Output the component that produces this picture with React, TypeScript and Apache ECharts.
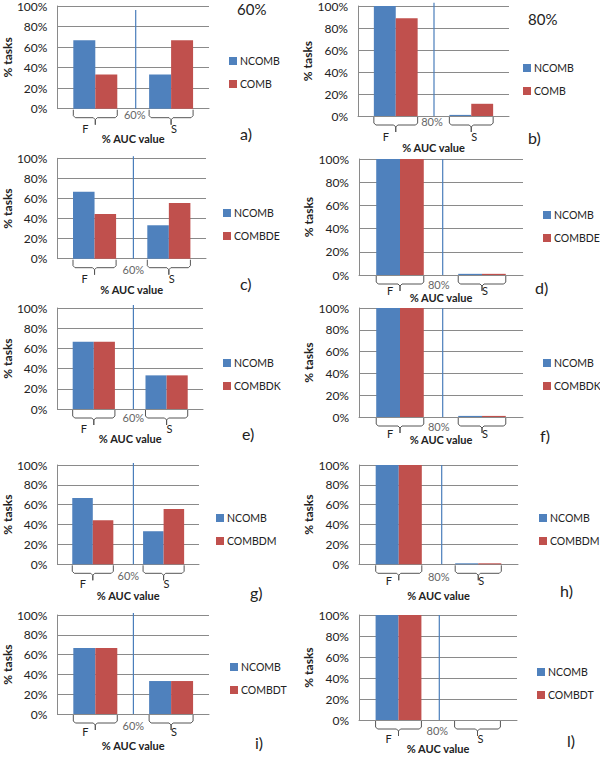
import React, { useEffect, useRef } from "react";
import * as echarts from "echarts";

const categories = ["F", "S"];
const panelLetters = ["a)", "b)", "c)", "d)", "e)", "f)", "g)", "h)", "i)", "l)"];
const thresholds = ["60%", "80%", "60%", "80%", "60%", "80%", "60%", "80%", "60%", "80%"];
const compNames = ["COMB", "COMB", "COMBDE", "COMBDE", "COMBDK", "COMBDK", "COMBDM", "COMBDM", "COMBDT", "COMBDT"];
const ncombValues = [
  [66.7, 33.3], [100, 1], [66.7, 33.3], [100, 1], [66.7, 33.3],
  [100, 1], [66.7, 33.3], [100, 1], [66.7, 33.3], [100, 0],
];
const combValues = [
  [33.3, 66.7], [88.9, 11.1], [44.4, 55.6], [100, 1], [66.7, 33.3],
  [100, 1], [44.4, 55.6], [100, 1], [66.7, 33.3], [100, 0],
];
const headerTitles = [
  { text: "60%", x: 237, y: 1 },
  { text: "80%", x: 528, y: 11 },
];

// layout (positions only)
const layout = [
  { l: 56, t: 6, w: 153, h: 102.7, legL: 229, legT: 55, nameGap: 24, lblM: 14, midDy: 5.5, midDx: -1, divDx: 2.5, divTop: 96, let: [240, 125] },
  { l: 358, t: 6, w: 151, h: 110, legL: 523, legT: 62, nameGap: 26, lblM: 15, midDy: 5, midDx: -2, divDx: 0.5, divTop: 103, let: [528, 129] },
  { l: 56, t: 158.3, w: 150, h: 100.4, legL: 223, legT: 207, nameGap: 25, lblM: 14, midDy: 10.5, midDx: 0, divDx: 1.7, divTop: 102, let: [240, 275] },
  { l: 359, t: 159, w: 164, h: 116, legL: 543, legT: 209, nameGap: 16.5, lblM: 10, midDy: 9, midDx: -4, divDx: 1.7, divTop: 100, let: [535, 279] },
  { l: 56, t: 308, w: 147, h: 101, legL: 223, legT: 357, nameGap: 24, lblM: 14, midDy: 8.5, midDx: 0, divDx: 3.2, divTop: 103, let: [242, 425] },
  { l: 359, t: 308, w: 164, h: 109, legL: 543, legT: 357, nameGap: 16.5, lblM: 11, midDy: 9, midDx: -4, divDx: 1.7, divTop: 100, let: [540, 427] },
  { l: 56, t: 465, w: 143, h: 99.3, legL: 216, legT: 512, nameGap: 26, lblM: 14, midDy: 11, midDx: -5, divDx: 5.2, divTop: 102, let: [250, 584] },
  { l: 359, t: 465, w: 159, h: 99.3, legL: 539, legT: 512, nameGap: 26, lblM: 11, midDy: 12, midDx: -3, divDx: 3.2, divTop: 100, let: [560, 582] },
  { l: 56, t: 615, w: 153, h: 99, legL: 230, legT: 661, nameGap: 26, lblM: 12, midDy: 11.5, midDx: 0, divDx: 0.2, divTop: 102, let: [255, 734] },
  { l: 359, t: 615, w: 158, h: 105, legL: 537, legT: 666, nameGap: 22.5, lblM: 13, midDy: 10.5, midDx: -2, divDx: 1.3, divTop: 100, let: [567, 732] },
];

const FONT = "Lato, 'Open Sans', sans-serif";
const BLUE = "#4F81BD";
const RED = "#C0504D";
const GRID_C = "#8a8a8a";
const BAR_SHARE = 0.58;

export default function App() {
  const ref = useRef<HTMLDivElement>(null);
  useEffect(() => {
    if (!ref.current) return;
    const chart = echarts.init(ref.current, null, { renderer: "svg" });
    const grids: any[] = [];
    const xAxes: any[] = [];
    const yAxes: any[] = [];
    const series: any[] = [];
    const legends: any[] = [];
    const graphics: any[] = [];

    layout.forEach((L, p) => {
      grids.push({ left: L.l, top: L.t, width: L.w, height: L.h, containLabel: false });
      xAxes.push({
        type: "category",
        gridIndex: p,
        data: categories,
        axisTick: { show: false },
        axisLabel: { show: false },
        axisLine: { lineStyle: { color: GRID_C, width: 1 } },
        name: "% AUC value",
        nameLocation: "middle",
        nameGap: L.nameGap,
        nameTextStyle: { fontFamily: FONT, fontSize: 11, fontWeight: "bold", color: "#222" },
      });
      yAxes.push({
        type: "value",
        gridIndex: p,
        min: 0,
        max: 100,
        interval: 20,
        axisLine: { show: true, lineStyle: { color: GRID_C, width: 1 } },
        axisTick: { show: false },
        splitLine: { show: true, lineStyle: { color: GRID_C, width: 1 } },
        axisLabel: { formatter: "{value}%", fontFamily: FONT, fontSize: 12, color: "#222", margin: 10 },
        name: "% tasks",
        nameLocation: "middle",
        nameRotate: 90,
        nameGap: 42,
        nameTextStyle: { fontFamily: FONT, fontSize: 12, fontWeight: "bold", color: "#222" },
      });
      series.push({
        type: "bar",
        name: "NCOMB",
        xAxisIndex: p,
        yAxisIndex: p,
        data: ncombValues[p],
        itemStyle: { color: BLUE },
        barGap: "0%",
        barCategoryGap: "42%",
      });
      series.push({
        type: "bar",
        name: compNames[p],
        xAxisIndex: p,
        yAxisIndex: p,
        data: combValues[p],
        itemStyle: { color: RED },
        barGap: "0%",
        barCategoryGap: "42%",
      });
      // brackets with F / S labels
      series.push({
        type: "custom",
        xAxisIndex: p,
        yAxisIndex: p,
        silent: true,
        clip: false,
        encode: { x: 0, y: 1 },
        data: categories.map((_, i) => [i, 0]),
        renderItem: (params: any, api: any) => {
          const idx = api.value(0);
          const c = api.coord([idx, 0]);
          const band = api.size([1, 0])[0];
          const half = (band * BAR_SHARE) / 2;
          const x0 = c[0] - half;
          const x1 = c[0] + half;
          const xc = c[0];
          const y = c[1];
          return {
            type: "group",
            children: [
              {
                type: "polyline",
                shape: {
                  points: [
                    [x0, y + 1], [x0, y + 7], [x0 + 2, y + 9], [xc - 2, y + 9], [xc, y + 11], [xc, y + 16],
                    [xc, y + 11], [xc + 2, y + 9], [x1 - 2, y + 9], [x1, y + 7], [x1, y + 1],
                  ],
                },
                style: { stroke: "#555", fill: null, lineWidth: 1 },
              },
              {
                type: "text",
                style: {
                  text: categories[idx],
                  x: xc + (idx === 0 ? -10 : 3),
                  y: y + L.lblM,
                  align: "center",
                  verticalAlign: "top",
                  fontFamily: FONT,
                  fontSize: 11,
                  fill: "#222",
                },
              },
            ],
          };
        },
        z: 5,
      });
      // divider line & threshold label
      series.push({
        type: "custom",
        xAxisIndex: p,
        yAxisIndex: p,
        silent: true,
        clip: false,
        encode: { x: 0, y: 1 },
        data: [[0, 0]],
        renderItem: (params: any, api: any) => {
          const c0 = api.coord([0, 0]);
          const band = api.size([1, 0])[0];
          const x = c0[0] + band / 2 + L.divDx;
          const topY = api.coord([0, L.divTop])[1];
          return {
            type: "group",
            children: [
              {
                type: "line",
                shape: { x1: x, y1: topY, x2: x, y2: c0[1] },
                style: { stroke: "#4A7EBB", lineWidth: 1.2 },
              },
              {
                type: "text",
                style: {
                  text: thresholds[p],
                  x: x + L.midDx,
                  y: c0[1] + L.midDy,
                  align: "center",
                  verticalAlign: "middle",
                  fontFamily: FONT,
                  fontSize: 11,
                  fill: "#666",
                },
              },
            ],
          };
        },
        z: 6,
      });
      legends.push({
        data: ["NCOMB", compNames[p]],
        orient: "vertical",
        left: L.legL,
        top: L.legT,
        padding: 0,
        itemGap: 11,
        itemWidth: 8,
        itemHeight: 8,
        itemStyle: { borderWidth: 0 },
        icon: "rect",
        selectedMode: false,
        textStyle: { fontFamily: FONT, fontSize: 10.5, lineHeight: 12, color: "#222", padding: [0, 0, 0, -2] },
      });
      graphics.push({
        type: "text",
        left: L.let[0],
        top: L.let[1],
        style: { text: panelLetters[p], fontFamily: FONT, fontSize: 16, fill: "#222" },
      });
    });

    headerTitles.forEach((h) => {
      graphics.push({
        type: "text",
        left: h.x,
        top: h.y,
        style: { text: h.text, fontFamily: FONT, fontSize: 15, fill: "#222" },
      });
    });

    chart.setOption({
      animation: false,
      backgroundColor: "#ffffff",
      grid: grids,
      xAxis: xAxes,
      yAxis: yAxes,
      legend: legends,
      series,
      graphic: graphics,
    });
    return () => chart.dispose();
  }, []);
  return (
    <div
      ref={ref}
      style={{ position: "absolute", left: 0, top: 0, width: 600, height: 757 }}
    />
  );
}
